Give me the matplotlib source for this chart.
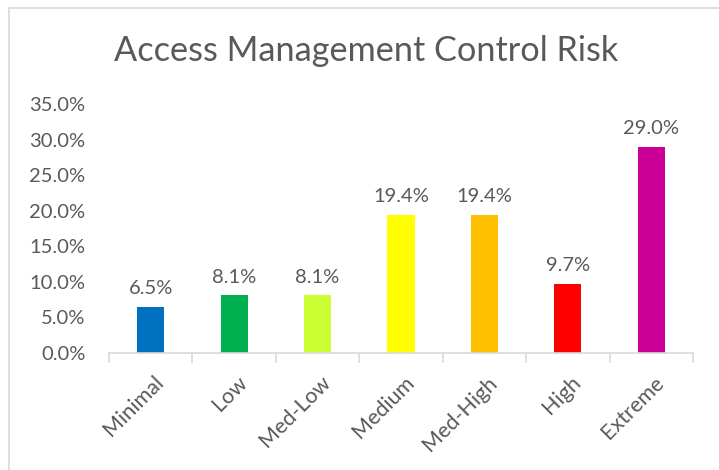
import matplotlib.pyplot as plt
from matplotlib.patches import Rectangle
import numpy as np

categories = ['Minimal', 'Low', 'Med-Low', 'Medium', 'Med-High', 'High', 'Extreme']
values = [6.5, 8.1, 8.1, 19.4, 19.4, 9.7, 29.0]
colors = ['#0070C0', '#00B050', '#CCFF33', '#FFFF00', '#FFC000', '#FF0000', '#CC0099']
yticks = [0, 5, 10, 15, 20, 25, 30, 35]

plt.rcParams['font.family'] = ['Lato', 'DejaVu Sans']
txt = '#595959'

fig = plt.figure(figsize=(7.19, 4.70), dpi=100)
fig.patches.append(Rectangle((9/719, -0.1), 1.2, 1 - 8/470 + 0.1, transform=fig.transFigure,
                             fill=False, edgecolor='#D9D9D9', linewidth=1.2))

ax = fig.add_axes([109/719, 1 - 353/470, (693 - 109)/719, (353 - 104)/470])
x = np.arange(len(categories))
bars = ax.bar(x, values, width=0.324, color=colors)

# data labels above the bars
for xi, v in zip(x, values):
    ax.annotate(f'{v:.1f}%', (xi, v), xytext=(0, 7), textcoords='offset points',
                ha='center', va='bottom', fontsize=14.5, color=txt)

ax.set_xlim(-0.5, len(categories) - 0.5)
ax.set_ylim(0, 35)
ax.set_yticks(yticks)
ax.set_yticklabels([f'{t:.1f}%' for t in yticks], fontsize=14.5, color=txt)
ax.tick_params(axis='y', length=0, pad=17)

# tick marks between categories, labels rotated under bar centres
ax.set_xticks(np.arange(-0.5, len(categories)))
ax.set_xticklabels([])
ax.tick_params(axis='x', length=7, color='#D9D9D9', width=1.2)
for xi, c in zip(x, categories):
    ax.annotate(c, (xi, 0), xytext=(2, -14), textcoords='offset points',
                rotation=45, ha='right', va='top', rotation_mode='anchor',
                fontsize=15.5, color=txt, annotation_clip=False)

for s in ['top', 'right', 'left']:
    ax.spines[s].set_visible(False)
ax.spines['bottom'].set_color('#D9D9D9')
ax.spines['bottom'].set_linewidth(1.2)

fig.text(366.5/719, 1 - 51/470, 'Access Management Control Risk', ha='center', va='center',
         fontsize=24.7, color=txt)

plt.savefig('out.png', dpi=100)
